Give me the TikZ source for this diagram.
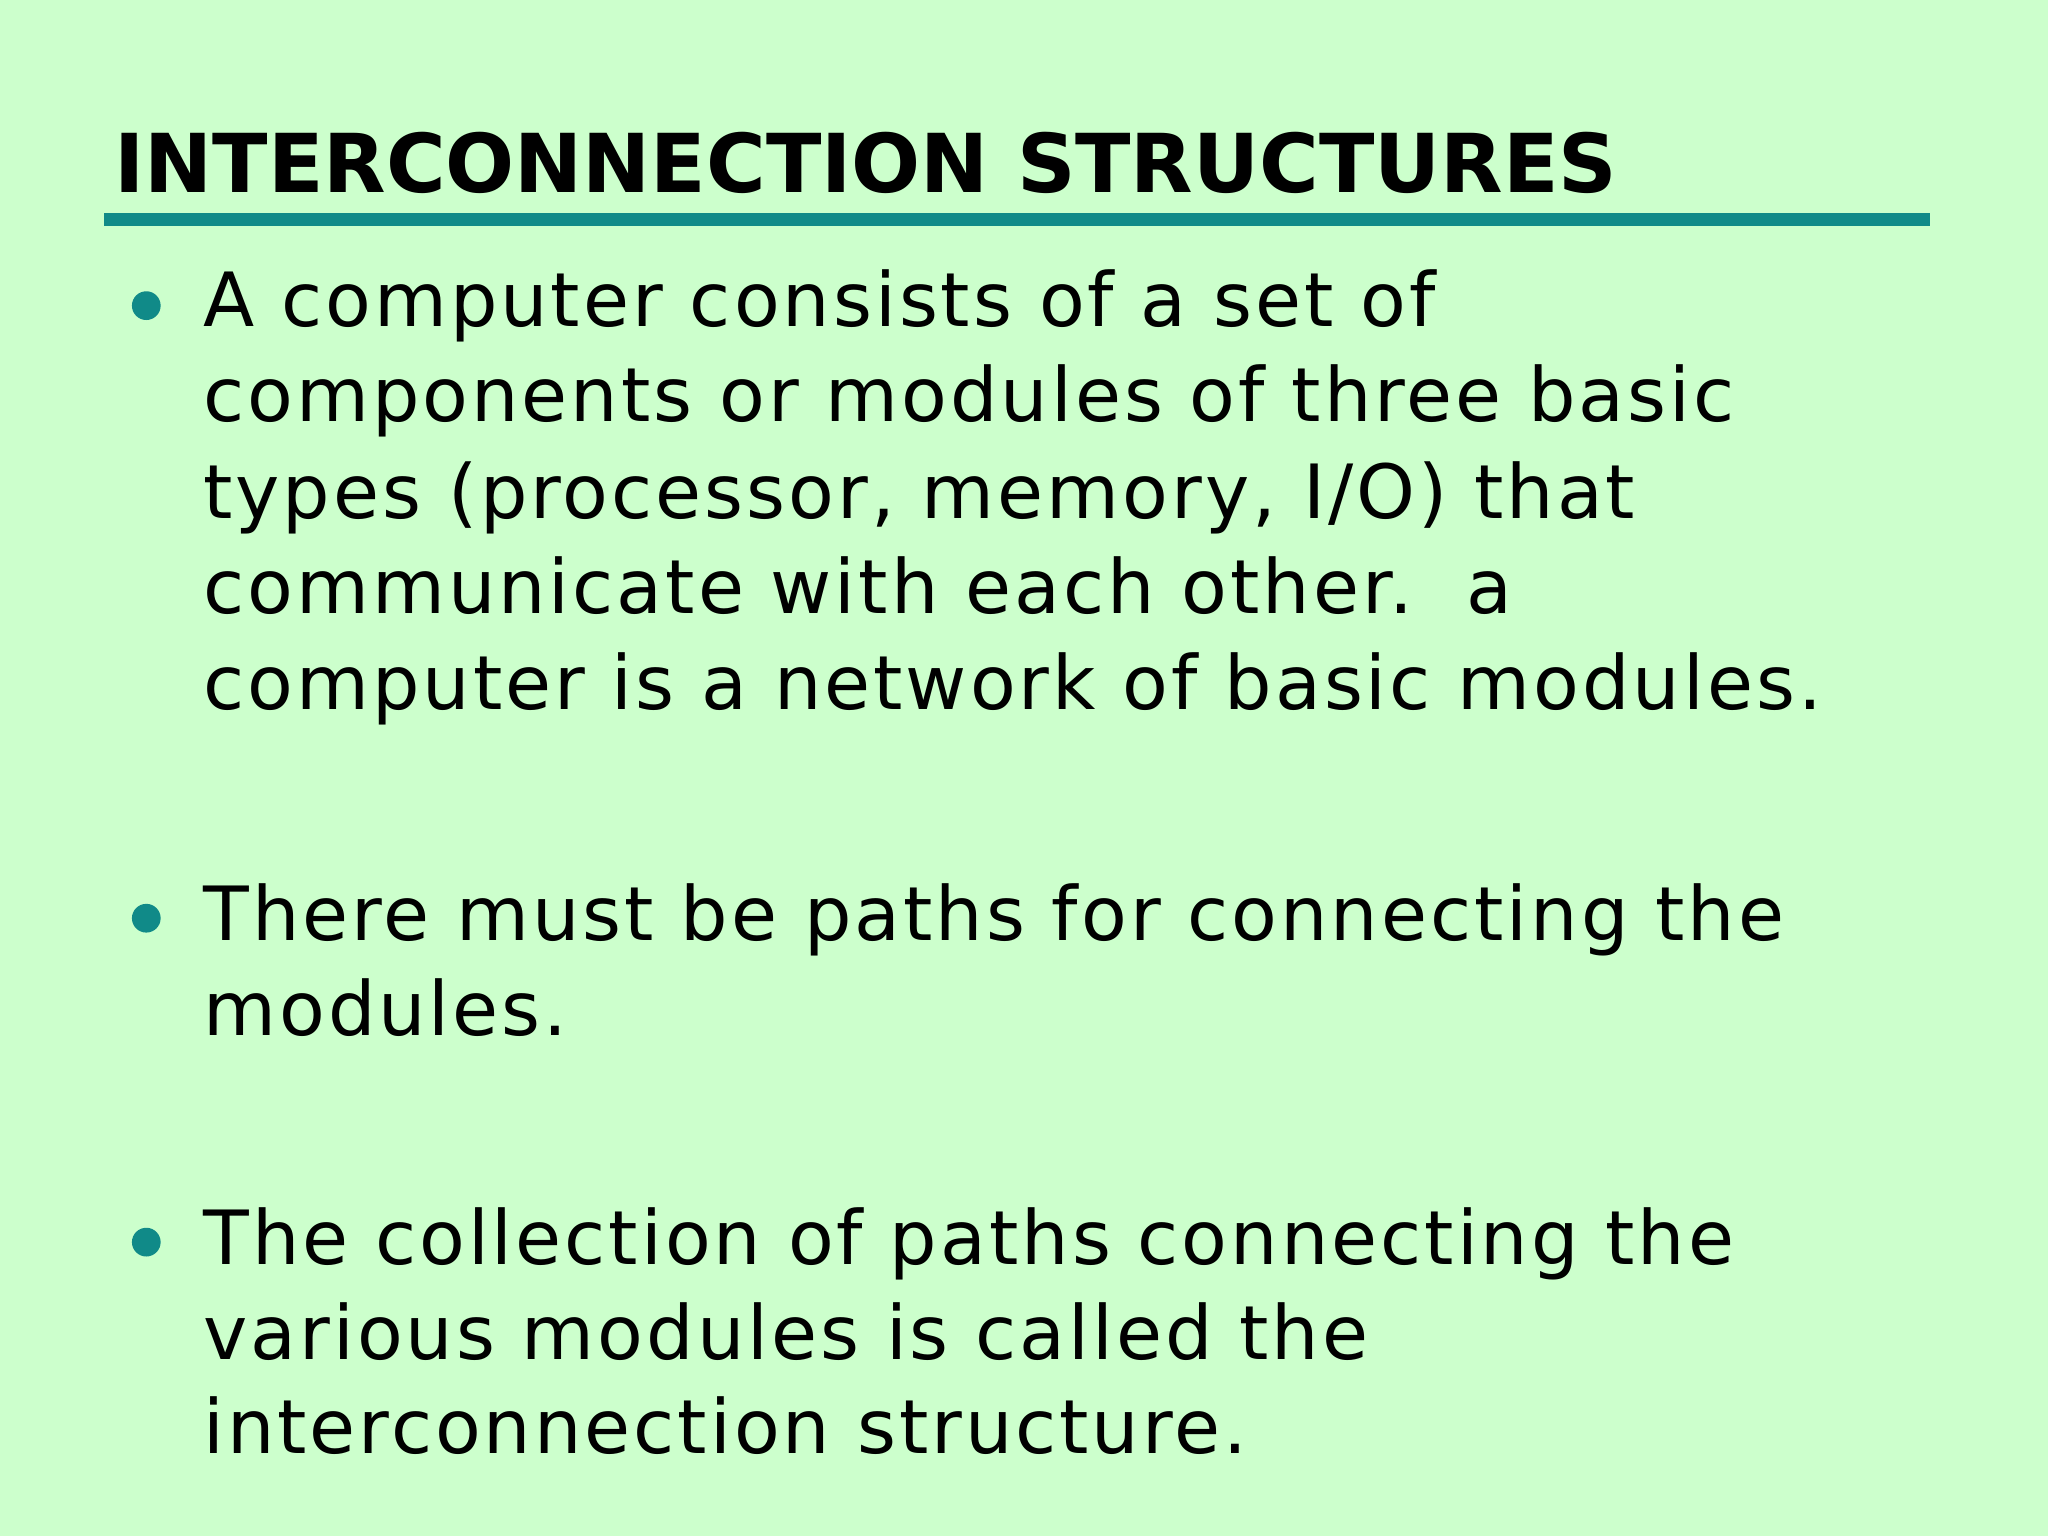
\documentclass[tikz,border=0pt]{standalone}
\usepackage{fontspec}
\setmainfont{DejaVu Sans}
\newfontfamily\bodyfont[LetterSpace=4]{DejaVu Sans}
\definecolor{bg}{HTML}{CCFFCC}
\definecolor{teal1}{HTML}{108A88}
\begin{document}
\begin{tikzpicture}[x=0.1mm,y=-0.1mm,
  line/.style={anchor=base west,inner sep=0pt,font=\bodyfont\fontsize{16.3}{20}\selectfont,text=black},
  bul/.style={circle,fill=teal1,minimum size=2.2mm,inner sep=0pt}]
\fill[bg] (0,0) rectangle (1568,1176);
\useasboundingbox (0,0) rectangle (1568,1176);
\node[anchor=base west,inner sep=0pt,font=\fontsize{17.7}{20}\bfseries\selectfont] (title) at (87,147) {INTERCONNECTION STRUCTURES};
\coordinate (r1) at (80,168); \coordinate (r2) at (1478,168);
\draw[teal1,line width=1mm] (r1) -- (r2);
\node[bul] (b1) at (112,234) {};
\node[bul] (b2) at (112,703) {};
\node[bul] (b3) at (112,951) {};
\node[line] (l1) at (155,250) {A computer consists of a set of};
\node[line] (l2) at (155,323) {components or modules of three basic};
\node[line] (l3) at (155,397) {types (processor, memory, I/O) that};
\node[line] (l4) at (155,470) {communicate with each other.\ \ a};
\node[line] (l5) at (155,543) {computer is a network of basic modules.};
\node[line] (l6) at (155,720) {There must be paths for connecting the};
\node[line] (l7) at (155,793) {modules.};
\node[line] (l8) at (155,968) {The collection of paths connecting the};
\node[line] (l9) at (155,1041) {various modules is called the};
\node[line] (l10) at (155,1113) {interconnection structure.};
\end{tikzpicture}
\end{document}
